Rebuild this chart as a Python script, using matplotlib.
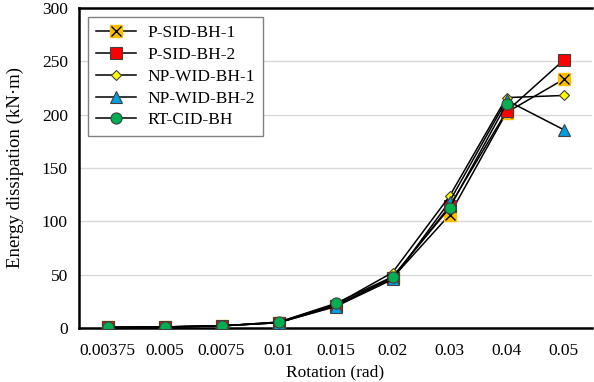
import matplotlib
matplotlib.use("Agg")
import matplotlib.pyplot as plt
from matplotlib.legend_handler import HandlerTuple

rotation = ["0.00375", "0.005", "0.0075", "0.01", "0.015", "0.02", "0.03", "0.04", "0.05"]

p_sid_1 = [0.5, 1.0, 2.0, 5.0, 21.0, 47.0, 106.0, 202.0, 233.0]
p_sid_2 = [0.5, 1.0, 2.0, 5.0, 21.0, 47.0, 114.0, 203.0, 251.0]
np_wid_1 = [0.5, 1.0, 2.0, 5.5, 22.0, 52.0, 123.5, 216.0, 218.0]
np_wid_2 = [0.5, 1.0, 2.0, 5.0, 20.0, 45.5, 118.5, 213.5, 186.0]
rt_cid = [0.5, 1.0, 2.0, 5.5, 23.0, 48.0, 112.5, 210.0]

plt.rcParams["font.family"] = ["Liberation Serif", "DejaVu Serif"]

fig = plt.figure(figsize=(5.94, 3.82), dpi=100)
ax = fig.add_axes([79 / 594, 1 - 328 / 382, 513 / 594, 320 / 382])

x = list(range(len(rotation)))

l1, = ax.plot(x, p_sid_1, color="black", lw=1.1, marker="s", ms=8.5,
              mfc="#ffc000", mec="#ffc000", zorder=3)
l1x, = ax.plot(x, p_sid_1, ls="none", marker="x", ms=7, mec="black",
               mew=1.0, zorder=3.1)
l2, = ax.plot(x, p_sid_2, color="black", lw=1.1, marker="s", ms=8,
              mfc="#ff0000", mec="#404040", mew=0.8, zorder=3.2)
l3, = ax.plot(x, np_wid_1, color="black", lw=1.1, marker="D", ms=5.5,
              mfc="#ffff00", mec="#404040", mew=0.8, zorder=3.3)
l4, = ax.plot(x, np_wid_2, color="black", lw=1.1, marker="^", ms=8,
              mfc="#00a0e0", mec="#404040", mew=0.8, zorder=3.4)
l5, = ax.plot(x[:len(rt_cid)], rt_cid, color="black", lw=1.1, marker="o", ms=8,
              mfc="#00b050", mec="#404040", mew=0.8, zorder=3.5)

ax.set_xlim(-0.5, len(rotation) - 0.5)
ax.set_ylim(0, 300)
ax.set_yticks(range(0, 301, 50))
ax.set_xticks(x)
ax.set_xticklabels(rotation)
ax.tick_params(length=0, labelsize=12.5)
ax.tick_params(axis="x", pad=11)
ax.tick_params(axis="y", pad=8)
ax.grid(axis="y", color="#d9d9d9", lw=1)
ax.set_axisbelow(True)

for side in ["left", "bottom", "top"]:
    ax.spines[side].set_linewidth(1.8)
ax.spines["right"].set_visible(False)

ax.set_xlabel("Rotation (rad)", fontsize=12.5, labelpad=4)
ax.set_ylabel("Energy dissipation (kN\u00b7m)", fontsize=13.5)
ax.yaxis.set_label_coords(-55 / 513, 0.5)

leg = ax.legend([(l1, l1x), l2, l3, l4, l5],
                ["P-SID-BH-1", "P-SID-BH-2", "NP-WID-BH-1", "NP-WID-BH-2", "RT-CID-BH"],
                handler_map={tuple: HandlerTuple(ndivide=1, pad=0)},
                loc="upper left", bbox_to_anchor=(9 / 513, 1 - 9 / 320), fontsize=12.5,
                fancybox=False, edgecolor="#808080", framealpha=1, borderaxespad=0,
                handlelength=2.3, handletextpad=0.7, labelspacing=0.33, borderpad=0.45)
leg.get_frame().set_linewidth(1.0)

fig.savefig("out.png", dpi=100)
